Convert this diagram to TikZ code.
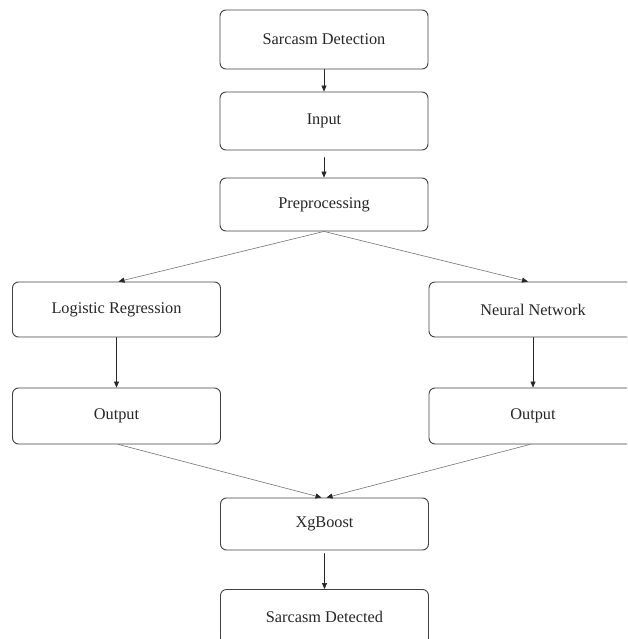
\documentclass[tikz,border=0pt]{standalone}
\usepackage{fontspec}
\setmainfont{Liberation Serif}
\usepackage{tikz}
\usetikzlibrary{arrows.meta}
\tikzset{
    stage/.style={%Box format configuration
        draw=black!75,
        line width=0.9pt,
        rounded corners=6pt,
        minimum width=208pt,
        minimum height=55pt,
        inner sep=0pt,
        text=black!85,
        font=\fontsize{16.3}{19}\selectfont
        },
    flow/.style={->,line width=0.6pt,color=black!85},
    split/.style={-{Triangle[length=6pt,width=5pt,color=black!85]},line width=0.6pt,color=black!55}
    }

\begin{document}
\begin{tikzpicture}[line cap=round,line join=round,>={Triangle[length=6pt,width=5pt]},x=1pt,y=-1pt]
\useasboundingbox (0,0) rectangle (627,639);
\clip (0,0) rectangle (627,639);
\node[stage,minimum height=59pt] (detect) at (324,39.5) {Sarcasm Detection};
\node[stage,minimum height=58pt] (input) at (324,121) {Input};
\node[stage,minimum height=53pt] (prep) at (324,204.5) {Preprocessing};
\node[stage] (logreg) at (116.5,309.5) {Logistic Regression};
\node[stage] (neural) at (533,309.5) {Neural Network};
\node[stage,minimum height=56pt] (outleft) at (116.5,416) {Output};
\node[stage,minimum height=56pt] (outright) at (533,416) {Output};
\node[stage,minimum height=52pt] (xgb) at (324.5,524) {XgBoost};
\node[stage] (result) at (324.5,617) {Sarcasm Detected};
\draw[flow] (detect) -- (input);
\draw[flow,shorten <=7pt] (input) -- (prep);
\draw[split] (prep.south) -- ([xshift=2pt]logreg.north);
\draw[split] (prep.south) -- ([xshift=-5pt]neural.north);
\draw[flow] (logreg) -- (outleft);
\draw[flow] (neural) -- (outright);
\draw[split] ([xshift=2pt]outleft.south) -- ([xshift=-3pt]xgb.north);
\draw[split] ([xshift=-3pt]outright.south) -- ([xshift=2pt]xgb.north);
\draw[flow,shorten <=3pt] (xgb) -- (result);
\end{tikzpicture}
\end{document}
